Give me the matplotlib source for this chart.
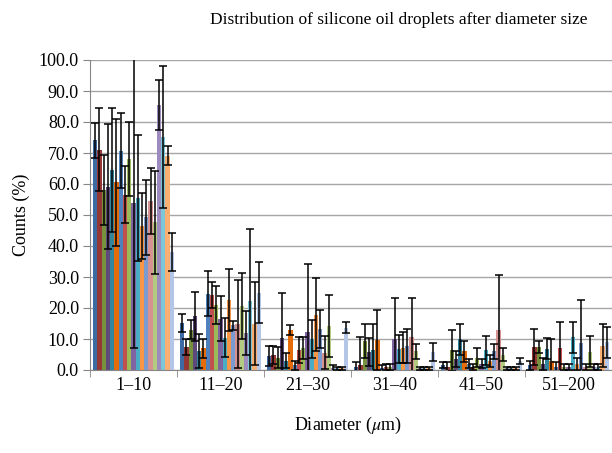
import matplotlib.pyplot as plt
import numpy as np

plt.rcParams['font.family'] = ['Liberation Serif', 'DejaVu Serif']
plt.rcParams['mathtext.fontset'] = 'stix'

categories = ['1–10', '11–20', '21–30', '31–40', '41–50', '51–200']

# mean counts (%) for each of the 19 series, one value per diameter class
values = [
    [74.1, 15.2, 4.5, 1.0, 1.5, 1.5],
    [71.1, 7.5, 4.8, 1.5, 1.0, 7.4],
    [58.0, 13.0, 4.0, 9.3, 6.3, 7.4],
    [59.1, 17.3, 10.2, 5.8, 3.5, 2.0],
    [64.5, 6.0, 3.0, 6.3, 9.9, 6.9],
    [60.5, 7.0, 12.9, 9.6, 6.0, 3.0],
    [70.8, 24.6, 1.5, 0.5, 2.0, 1.0],
    [56.6, 24.3, 6.6, 1.0, 1.0, 7.1],
    [68.0, 20.9, 7.0, 1.0, 4.0, 1.0],
    [53.8, 16.6, 12.3, 10.1, 2.0, 1.0],
    [55.4, 10.4, 10.0, 6.8, 6.3, 10.5],
    [46.4, 22.6, 17.8, 7.1, 3.0, 2.0],
    [49.2, 14.4, 13.2, 7.8, 6.0, 8.6],
    [54.5, 14.8, 5.6, 10.6, 13.0, 1.0],
    [47.7, 20.6, 14.2, 6.0, 5.0, 5.9],
    [85.6, 12.0, 0.5, 0.5, 0.5, 1.0],
    [75.2, 22.2, 0.5, 0.5, 0.5, 1.0],
    [69.1, 15.0, 0.5, 0.5, 0.5, 7.9],
    [38.0, 25.0, 13.7, 5.8, 3.0, 9.0],
]

# error bar half-lengths
errors = [
    [5.7, 3.0, 3.2, 1.5, 1.0, 1.5],
    [13.4, 2.5, 3.0, 9.3, 1.5, 5.7],
    [11.3, 3.0, 3.5, 5.4, 6.7, 1.9],
    [20.2, 8.0, 14.6, 4.6, 2.5, 2.0],
    [20.0, 5.5, 2.5, 8.4, 5.1, 3.4],
    [20.5, 3.0, 1.5, 9.6, 3.5, 7.0],
    [12.0, 7.3, 1.5, 1.0, 1.5, 1.5],
    [9.2, 4.2, 4.2, 1.0, 1.0, 8.4],
    [12.0, 6.2, 3.5, 1.0, 3.0, 1.0],
    [46.7, 7.3, 22.0, 13.2, 1.5, 1.0],
    [20.3, 6.3, 6.1, 4.5, 4.7, 5.0],
    [10.6, 10.0, 11.8, 5.0, 2.0, 2.0],
    [12.2, 1.5, 6.2, 5.5, 2.4, 14.0],
    [10.7, 14.3, 5.4, 12.7, 17.7, 1.0],
    [16.6, 10.6, 9.9, 2.3, 2.0, 5.0],
    [8.1, 7.0, 1.0, 0.5, 0.5, 1.0],
    [22.8, 23.3, 0.5, 0.5, 0.5, 1.0],
    [3.0, 13.3, 0.5, 0.5, 0.5, 6.9],
    [6.2, 9.8, 1.9, 2.8, 1.0, 5.0],
]

colors = ['#3E6AA3', '#953735', '#76923C', '#5F497A', '#31859C', '#E46C0A',
          '#4F81BD', '#C0504D', '#9BBB59', '#8064A2', '#4BACC6', '#F79646',
          '#7B9BD0', '#D59290', '#B3CB81', '#9E8BBD', '#7DC5D8', '#F9AE72',
          '#B4C6E7']

fig = plt.figure(figsize=(6.12, 4.53), dpi=100)
# axes runs a bit past the right edge, as in the cropped original
ax = fig.add_axes([90 / 612, 1 - 370 / 453, 522 / 612, 310 / 453])

n = len(values)
width = 1 / (n + 1.4)
x = np.arange(len(categories))

for i in range(n):
    pos = x + (i - (n - 1) / 2) * width
    ax.bar(pos, values[i], width, color=colors[i], zorder=2)
    ax.errorbar(pos, values[i], yerr=errors[i], fmt='none', ecolor='black',
                elinewidth=1.1, capsize=2.6, capthick=1.1, zorder=3)

ax.set_xlim(-0.5, len(categories) - 0.5)
ax.set_ylim(0, 100)
ax.set_yticks(np.arange(0, 101, 10))
ax.set_yticklabels([f'{v:.1f}' for v in np.arange(0, 101, 10)], fontsize=13)
ax.set_xticks(x)
ax.set_xticklabels(categories, fontsize=13)
ax.set_xticks(np.arange(-0.5, len(categories)), minor=True)
ax.tick_params(axis='x', which='major', length=0, pad=5)
ax.tick_params(axis='x', which='minor', length=5, color='#868686')
ax.tick_params(axis='y', length=5, color='#868686', pad=3)

ax.grid(axis='y', color='#A6A6A6', linewidth=1.0, zorder=0)
ax.set_axisbelow(True)
for side in ['top', 'right']:
    ax.spines[side].set_visible(False)
for side in ['left', 'bottom']:
    ax.spines[side].set_color('#868686')

ax.set_ylabel('Counts (%)', fontsize=13, labelpad=6)
fig.text(348 / 612, 1 - 425 / 453, r'Diameter ($\mu$m)', fontsize=13,
         ha='center', va='center')
fig.text(399 / 612, 1 - 20 / 453, 'Distribution of silicone oil droplets after diameter size',
         fontsize=12.5, ha='center', va='center')

fig.savefig('out.png', dpi=100)
